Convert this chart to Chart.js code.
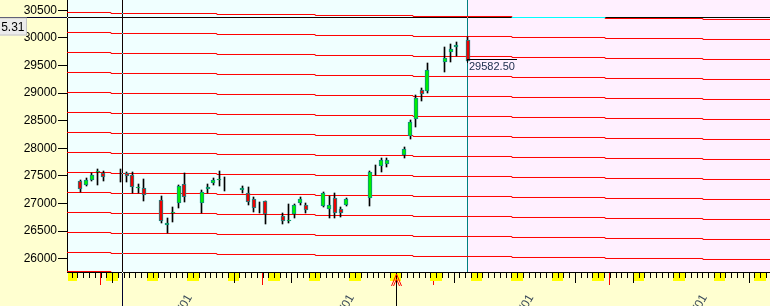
<!DOCTYPE html>
<html>
<head>
<meta charset="utf-8">
<script src="https://cdn.jsdelivr.net/npm/chart.js@4.4.1/dist/chart.umd.min.js"></script>
<style>
  html, body { margin: 0; padding: 0; background: #FFFFD0; overflow: hidden; }
  canvas { display: block; }
</style>
</head>
<body>
<canvas id="priceChart" width="770" height="306"></canvas>
<script>
// x values are calendar day slots, 0 = first Monday on screen
const candleDays = [0, 1, 2, 3, 4, 7, 8, 9, 10, 11, 14, 15, 16, 17, 18, 21, 22, 23, 24, 25,
    28, 29, 30, 31, 32, 35, 36, 37, 38, 39, 42, 43, 44, 45, 46, 50, 51, 52, 53,
    56, 57, 58, 59, 60, 63, 64, 65, 67];
const opens = [27408, 27335, 27426, 27562, 27558, 27553, 27547, 27516, 27281, 27275,
    27058, 26610, 26828, 27004, 27353, 27004, 27257, 27366, 27417, 27400,
    27245, 27185, 27076, 26973, 27045, 26774, 26683, 26810, 27015, 26973,
    26955, 26895, 27094, 26895, 26973, 27094, 27607, 27685, 27715,
    27879, 28223, 28525, 29056, 29038, 29569, 29750, 29830, 29962];
const highs = [27426, 27457, 27547, 27625, 27594, 27625, 27565, 27565, 27353, 27444,
    27136, 26732, 26942, 27335, 27547, 27245, 27353, 27457, 27589, 27485,
    27317, 27305, 27124, 27033, 27050, 26833, 26991, 26991, 27124, 27015,
    27214, 27136, 27196, 26942, 27094, 27594, 27698, 27819, 27819,
    28029, 28513, 28966, 29087, 29551, 29841, 29890, 29930, 30011];
const lows = [27214, 27317, 27413, 27335, 27413, 27395, 27395, 27185, 27185, 27051,
    26641, 26471, 26670, 26913, 27033, 26833, 27196, 27335, 27317, 27232,
    27185, 26973, 26851, 26833, 26629, 26629, 26641, 26732, 26973, 26822,
    26942, 26743, 26732, 26761, 26955, 26955, 27516, 27576, 27667,
    27819, 28163, 28380, 28857, 29007, 29388, 29569, 29672, 29582.5];
const closes = [27268, 27426, 27516, 27589, 27486, 27553, 27504, 27294, 27308, 27149,
    26677, 26638, 26855, 27317, 27112, 27203, 27293, 27426, 27444, 27400,
    27272, 27033, 26913, 26973, 26810, 26683, 26710, 26973, 27082, 26882,
    27196, 26973, 26833, 26822, 27076, 27576, 27607, 27788, 27788,
    27987, 28471, 28906, 28984, 29418, 29630, 29799, 29872, 29582.5];

// red level lines, shifted a little in each segment
const levelBase = [30460.53, 30098.18, 29735.83, 29373.48, 29011.13, 28648.78, 28286.43,
    27924.08, 27561.73, 27199.38, 26837.03, 26474.68, 26112.33, 25768.10];
const segStarts = [-2.3, 5.3, 23.6, 40.6, 57.5, 74.6, 90.7, 107.6];
const segShift = [0, -18.12, -36.24, -54.35, -72.47, -90.59, -108.71, -126.82];

const yTicks = [26000, 26500, 27000, 27500, 28000, 28500, 29000, 29500, 30000, 30500];
const monthTicks = [17.5, 45.5, 76.5, 106.5];
const monthLabels = ['2019/02/01', '2019/03/01', '2019/04/01', '2019/05/01'];
const tenDayTicks = [5.5, 26.5, 36.5, 54.5, 64.5, 85.5, 95.5, 115.5];
const weekendDays = [-2, -1, 5, 6, 12, 13, 19, 20, 26, 27, 33, 34, 40, 41, 47, 48, 54, 55, 61, 62,
    68, 69, 75, 76, 82, 83, 89, 90, 96, 97, 103, 104, 110, 111, 117, 118];
const crossX = 7.2;
const crossY = 30385.31;
const arrowDay = 54.6;

const X_MIN = -2.3, X_MAX = 119.2;

Chart.defaults.font.family = "'Liberation Sans', Arial, sans-serif";

const lastIdx = candleDays.length - 1;

const levelSets = levelBase.map(base => {
    const pts = segStarts.map((x, k) => ({ x: x, y: base + segShift[k] }));
    pts.push({ x: X_MAX, y: base + segShift[segShift.length - 1] });
    return {
        type: 'line',
        data: pts,
        stepped: true,
        borderColor: '#FF0000',
        borderWidth: 1,
        pointRadius: 0,
        fill: false,
        order: 3
    };
});

// snap candle bars onto whole pixels so they stay crisp
const snapBars = {
    id: 'snapBars',
    beforeDatasetsDraw(chart) {
        chart.data.datasets.forEach((ds, i) => {
            const meta = chart.getDatasetMeta(i);
            if (meta.type !== 'bar') return;
            meta.data.forEach(el => {
                if (ds.barThickness === 1) {
                    el.x = Math.floor(el.x) + 0.5;
                } else {
                    el.x = Math.round(el.x);
                }
                el.y = Math.round(el.y);
                el.base = Math.round(el.base);
            });
        });
    }
};

const scenery = {
    id: 'scenery',
    beforeDraw(chart) {
        const { ctx, chartArea: a, scales: { x } } = chart;
        ctx.save();
        ctx.fillStyle = '#FFFFD0';
        ctx.fillRect(0, 0, chart.width, chart.height);
        ctx.fillStyle = '#F0FFFF';
        ctx.fillRect(a.left, a.top, a.right - a.left, a.bottom - a.top);
        const lx = Math.floor(x.getPixelForValue(candleDays[lastIdx]));
        ctx.fillStyle = '#FFF0FF';
        ctx.fillRect(lx, a.top, a.right - lx, a.bottom - a.top);
        ctx.restore();
    },
    beforeDatasetsDraw(chart) {
        const { ctx, chartArea: a, scales: { x } } = chart;
        const lx = Math.floor(x.getPixelForValue(candleDays[lastIdx])) + 0.5;
        ctx.save();
        ctx.strokeStyle = '#008080';
        ctx.lineWidth = 1;
        ctx.beginPath();
        ctx.moveTo(lx, a.top);
        ctx.lineTo(lx, a.bottom);
        ctx.stroke();
        ctx.restore();
    },
    afterDraw(chart) {
        const { ctx, chartArea: a, scales: { x, y } } = chart;
        const px = v => x.getPixelForValue(v);
        ctx.save();

        // weekend blocks under the axis
        ctx.fillStyle = '#FFFF00';
        weekendDays.forEach(d => {
            const l = Math.round(px(d - 0.5)), r = Math.round(px(d + 0.5));
            if (r <= a.left) return;
            ctx.fillRect(Math.max(l, a.left + 1), a.bottom + 1, r - Math.max(l, a.left + 1), 8);
        });

        // small day ticks
        ctx.strokeStyle = '#000';
        ctx.lineWidth = 1;
        ctx.beginPath();
        for (let d = Math.ceil(X_MIN); d <= X_MAX; d++) {
            const tx = Math.round(px(d - 0.5)) + 0.5;
            if (tx <= a.left || tx >= a.right) continue;
            ctx.moveTo(tx, a.bottom);
            ctx.lineTo(tx, a.bottom + 6);
        }
        tenDayTicks.forEach(d => {
            const tx = Math.round(px(d)) + 0.5;
            ctx.moveTo(tx, a.bottom);
            ctx.lineTo(tx, a.bottom + 11);
        });
        ctx.stroke();

        // marker arrow on the date axis
        const ax = Math.round(px(arrowDay)) + 0.5;
        ctx.beginPath();
        ctx.moveTo(ax, a.bottom + 4);
        ctx.lineTo(ax, chart.height);
        ctx.stroke();
        ctx.strokeStyle = '#FF0000';
        ctx.beginPath();
        ctx.moveTo(ax - 5, a.bottom + 14);
        ctx.lineTo(ax, a.bottom + 2);
        ctx.lineTo(ax + 5, a.bottom + 14);
        ctx.moveTo(ax - 3, a.bottom + 14);
        ctx.lineTo(ax, a.bottom + 7);
        ctx.lineTo(ax + 3, a.bottom + 14);
        ctx.stroke();

        // last price tag
        const ly = Math.round(y.getPixelForValue(closes[lastIdx]));
        const lx = Math.floor(px(candleDays[lastIdx]));
        ctx.strokeStyle = '#000';
        ctx.beginPath();
        ctx.moveTo(lx, ly - 1.5);
        ctx.lineTo(lx + 50, ly - 1.5);
        ctx.moveTo(lx + 0.5, ly - 1.5);
        ctx.lineTo(lx + 0.5, ly + 2);
        ctx.stroke();
        ctx.fillStyle = '#203050';
        ctx.font = "11px 'Liberation Sans', Arial, sans-serif";
        ctx.textAlign = 'left';
        ctx.textBaseline = 'alphabetic';
        ctx.fillText(closes[lastIdx].toFixed(2), lx + 2, ly + 8.5);

        // crosshair, drawn inverted like the original
        const cx = Math.round(px(crossX)) + 0.5;
        const cy = Math.round(y.getPixelForValue(crossY)) + 0.5;
        ctx.globalCompositeOperation = 'difference';
        ctx.strokeStyle = '#FFFFFF';
        ctx.beginPath();
        ctx.moveTo(0, cy);
        ctx.lineTo(chart.width, cy);
        ctx.moveTo(cx, 0);
        ctx.lineTo(cx, cy - 0.5);
        ctx.moveTo(cx, cy + 0.5);
        ctx.lineTo(cx, chart.height);
        ctx.stroke();
        ctx.globalCompositeOperation = 'source-over';

        // crosshair value box
        ctx.fillStyle = '#EBEBEB';
        ctx.fillRect(-2, cy + 1, 29, 17);
        ctx.strokeStyle = '#C4C4C4';
        ctx.strokeRect(-2.5, cy + 0.5, 29, 17);
        ctx.beginPath();
        ctx.rect(1, cy + 1, 26, 17);
        ctx.clip();
        ctx.fillStyle = '#000';
        ctx.font = "12px 'Liberation Sans', Arial, sans-serif";
        ctx.textAlign = 'right';
        ctx.fillText(crossY.toFixed(2), 24.5, cy + 13.5);
        ctx.restore();
    }
};

new Chart(document.getElementById('priceChart'), {
    type: 'bar',
    data: {
        datasets: [
            {
                label: 'Body',
                data: candleDays.map((d, i) => ({ x: d, y: [opens[i], closes[i]] })),
                backgroundColor: closes.map((c, i) => c >= opens[i] ? '#00F000' : '#F00000'),
                borderColor: '#108888',
                borderWidth: 1,
                borderSkipped: false,
                barThickness: 4,
                grouped: false,
                order: 1
            },
            {
                label: 'Wick',
                data: candleDays.map((d, i) => ({ x: d, y: [lows[i], highs[i]] })),
                backgroundColor: '#000000',
                borderWidth: 0,
                barThickness: 1,
                grouped: false,
                order: 2
            },
            ...levelSets
        ]
    },
    options: {
        responsive: false,
        animation: false,
        devicePixelRatio: 1,
        events: [],
        layout: { padding: 0 },
        plugins: {
            legend: { display: false },
            tooltip: { enabled: false }
        },
        scales: {
            x: {
                type: 'linear',
                min: X_MIN,
                max: X_MAX,
                offset: false,
                afterBuildTicks: s => { s.ticks = monthTicks.map(v => ({ value: v })); },
                afterFit: s => { s.height = 34; s.paddingLeft = 0; s.paddingRight = 0; },
                grid: { drawOnChartArea: false, drawTicks: true, tickLength: 13, color: '#FF0000', lineWidth: 1 },
                border: { display: true, color: '#000000', width: 1 },
                ticks: {
                    autoSkip: false,
                    maxRotation: 60,
                    minRotation: 60,
                    padding: 7,
                    labelOffset: 8,
                    color: '#3A4A5A',
                    font: { size: 12 },
                    callback: v => monthLabels[monthTicks.indexOf(v)] || ''
                }
            },
            y: {
                position: 'left',
                min: 25759,
                max: 30687,
                afterBuildTicks: s => { s.ticks = yTicks.map(v => ({ value: v })); },
                afterFit: s => { s.width = 67; s.paddingTop = 0; s.paddingBottom = 0; },
                grid: { drawOnChartArea: false, drawTicks: true, tickLength: 9, color: '#000000' },
                border: { display: true, color: '#000000', width: 1 },
                ticks: {
                    padding: 1,
                    color: '#000000',
                    font: { size: 12 },
                    callback: v => String(v)
                }
            }
        }
    },
    plugins: [snapBars, scenery]
});
</script>
</body>
</html>
